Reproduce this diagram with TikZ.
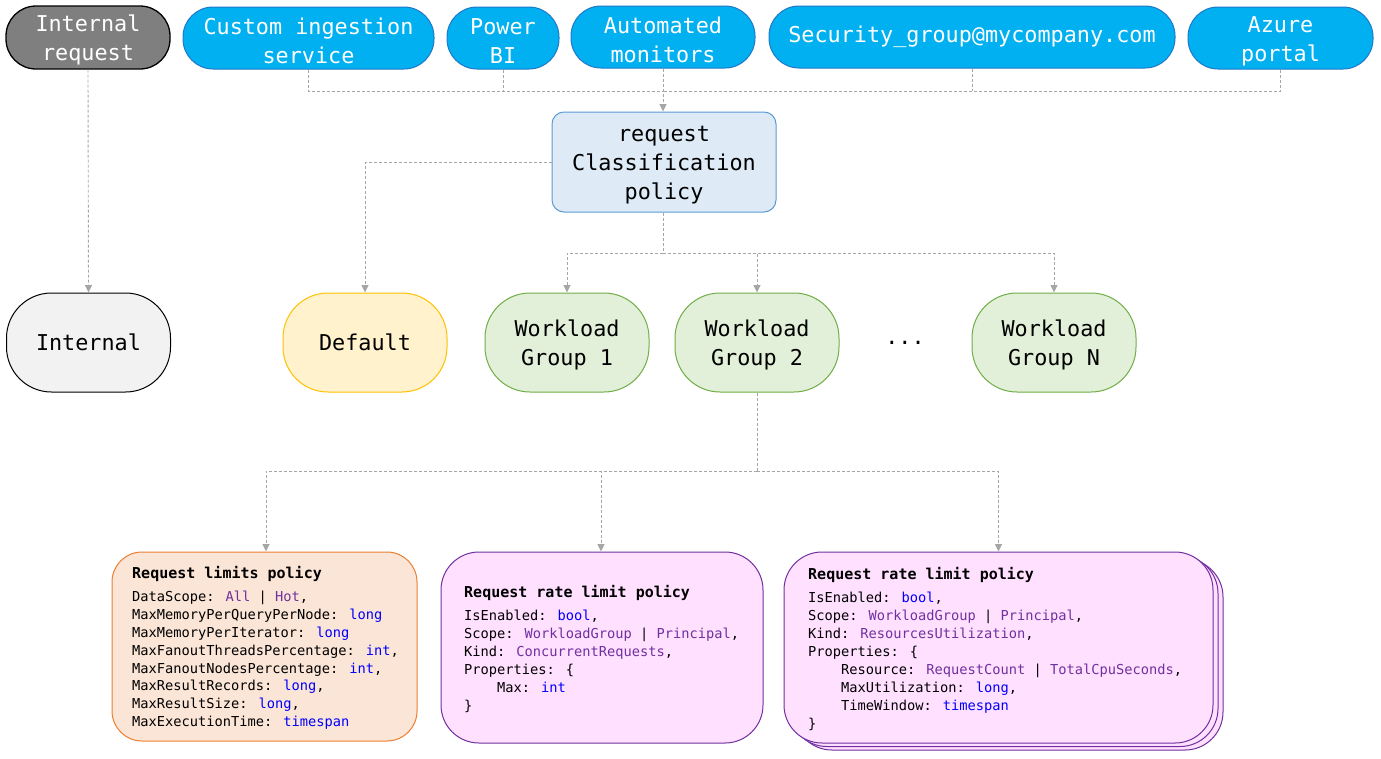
\documentclass[tikz,border=0pt]{standalone}
\usepackage{fontspec}
\newfontfamily\mono{DejaVu Sans Mono}
\usetikzlibrary{arrows.meta}
\definecolor{srcfill}{HTML}{00B0F0}
\definecolor{srcdraw}{HTML}{1F78C8}
\definecolor{irfill}{HTML}{7F7F7F}
\definecolor{clsfill}{HTML}{DEEBF7}
\definecolor{clsdraw}{HTML}{5B9BD5}
\definecolor{intfill}{HTML}{F2F2F2}
\definecolor{deffill}{HTML}{FFF2CC}
\definecolor{defdraw}{HTML}{FFC000}
\definecolor{wgfill}{HTML}{E2F0D9}
\definecolor{wgdraw}{HTML}{70AD47}
\definecolor{rlfill}{HTML}{FBE5D6}
\definecolor{rldraw}{HTML}{ED7D31}
\definecolor{rrfill}{HTML}{FFE0FF}
\definecolor{rrdraw}{HTML}{7030A0}
\definecolor{tyblue}{HTML}{0000FF}
\definecolor{enpurple}{HTML}{7030A0}
\definecolor{conncol}{HTML}{A6A6A6}
\newcommand{\tyB}[1]{\textcolor{tyblue}{#1}}
\newcommand{\enP}[1]{\textcolor{enpurple}{#1}}
\newcommand{\ind}{\hphantom{xxxx}}
\newcommand{\tst}{\rule{0pt}{22.5pt}}
\tikzset{
  base/.style={font=\mono\fontsize{21.8}{29}\selectfont, align=center, inner sep=0pt, line width=1pt},
  src/.style={base, rounded corners=30pt, fill=srcfill, draw=srcdraw, text=white, minimum height=62pt},
  ireqst/.style={base, rounded corners=30pt, fill=irfill, draw=black, line width=1.3pt, text=white, minimum height=63pt, minimum width=164pt},
  clsst/.style={base, rounded corners=12pt, fill=clsfill, draw=clsdraw, minimum width=224pt, minimum height=100pt},
  mid/.style={base, rounded corners=45pt, minimum width=164pt, minimum height=99pt},
  intst/.style={mid, fill=intfill, draw=black},
  defst/.style={mid, fill=deffill, draw=defdraw},
  wgst/.style={mid, fill=wgfill, draw=wgdraw},
  rlbox/.style={rounded corners=30pt, fill=rlfill, draw=rldraw, line width=1pt, inner sep=0pt},
  rrbox/.style={rounded corners=38pt, fill=rrfill, draw=rrdraw, line width=1pt, inner sep=0pt},
  code/.style={font=\mono\fontsize{13.7}{17.9}\selectfont, align=left, inner sep=0pt, anchor=west},
  conn/.style={draw=conncol, line width=0.9pt, dash pattern=on 3pt off 2pt},
  arr/.style={conn, -{Triangle[length=7.5pt,width=7pt,fill=conncol,sharp]}},
}
\newcommand{\ttl}[1]{{\bfseries\fontsize{15}{17.9}\selectfont #1}}
\begin{document}
\begin{tikzpicture}[x=1pt,y=-1pt]
\useasboundingbox (0,0) rectangle (1381,758);
% top sources
\node[ireqst] (ireq) at (88,37.5) {\tst Internal\\request};
\node[src, minimum width=251pt] (cis) at (308.5,38) {\tst Custom ingestion\\service};
\node[src, minimum width=112pt] (pbi) at (503,38) {\tst Power\\BI};
\node[src, minimum width=184pt] (am) at (663,37) {\tst Automated\\monitors};
\node[src, minimum width=406pt] (sec) at (972,37) {Security\_group@mycompany.com};
\node[src, minimum width=185pt] (az) at (1280.5,38) {\tst Azure\\portal};
% classification
\node[clsst] (cls) at (664,162) {\tst request\\Classification\\policy};
% middle row
\node[intst] (int) at (88.5,342.5) {Internal};
\node[defst] (def) at (365,342.5) {Default};
\node[wgst] (wg1) at (567,342.5) {\tst Workload\\Group 1};
\node[wgst] (wg2) at (757,342.5) {\tst Workload\\Group 2};
\node[wgst] (wgn) at (1054,342.5) {\tst Workload\\Group N};
\node[base] (dots) at (905,343) {...};
% bottom boxes
\node[rlbox, minimum width=305pt, minimum height=189pt] (rl) at (264.5,646.5) {};
\node[code] (rltxt) at (132,648) {\ttl{Request limits policy}\\[5pt]
DataScope: \enP{All} | \enP{Hot},\\
MaxMemoryPerQueryPerNode: \tyB{long}\\
MaxMemoryPerIterator: \tyB{long}\\
MaxFanoutThreadsPercentage: \tyB{int},\\
MaxFanoutNodesPercentage: \tyB{int},\\
MaxResultRecords: \tyB{long},\\
MaxResultSize: \tyB{long},\\
MaxExecutionTime: \tyB{timespan}};
\node[rrbox, minimum width=322pt, minimum height=191pt] (rr1) at (602,647.5) {};
\node[code] (rr1txt) at (464,649) {\ttl{Request rate limit policy}\\[5pt]
IsEnabled: \tyB{bool},\\
Scope: \enP{WorkloadGroup} | \enP{Principal},\\
Kind: \enP{ConcurrentRequests},\\
Properties: \{\\
\ind Max: \tyB{int}\\
\}};
\node[rrbox, minimum width=429pt, minimum height=191pt] (rr2c) at (1008.5,654.5) {};
\node[rrbox, minimum width=429pt, minimum height=191pt] (rr2b) at (1003.5,651) {};
\node[rrbox, minimum width=429pt, minimum height=191pt] (rr2) at (998.5,647.5) {};
\node[code] (rr2txt) at (808,649) {\ttl{Request rate limit policy}\\[5pt]
IsEnabled: \tyB{bool},\\
Scope: \enP{WorkloadGroup} | \enP{Principal},\\
Kind: \enP{ResourcesUtilization},\\
Properties: \{\\
\ind Resource: \enP{RequestCount} | \enP{TotalCpuSeconds},\\
\ind MaxUtilization: \tyB{long},\\
\ind TimeWindow: \tyB{timespan}\\
\}};
% connectors
\coordinate (bus) at (663,91);
\coordinate (bus2) at (663,253);
\coordinate (bus3) at (757,471);
\draw[arr] (ireq.south) -- (int.north);
\draw[conn] (cis.south) |- (bus);
\draw[conn] (az.south) |- (bus);
\draw[conn] (pbi.south) -- (pbi.south |- bus);
\draw[conn] (sec.south) -- (sec.south |- bus);
\draw[arr] (am.south) -- (am.south |- cls.north);
\draw[arr] (cls.west) -| (def.north);
\draw[conn] (cls.south -| bus2) -- (bus2);
\draw[arr] (bus2) -| (wg1.north);
\draw[arr] (bus2) -| (wg2.north);
\draw[arr] (bus2) -| (wgn.north);
\draw[conn] (wg2.south) -- (bus3);
\draw[arr] (bus3) -| ([xshift=1.5pt]rl.north);
\draw[arr] (bus3) -| ([xshift=-1pt]rr1.north);
\draw[arr] (bus3) -| (rr2.north);
\end{tikzpicture}
\end{document}
